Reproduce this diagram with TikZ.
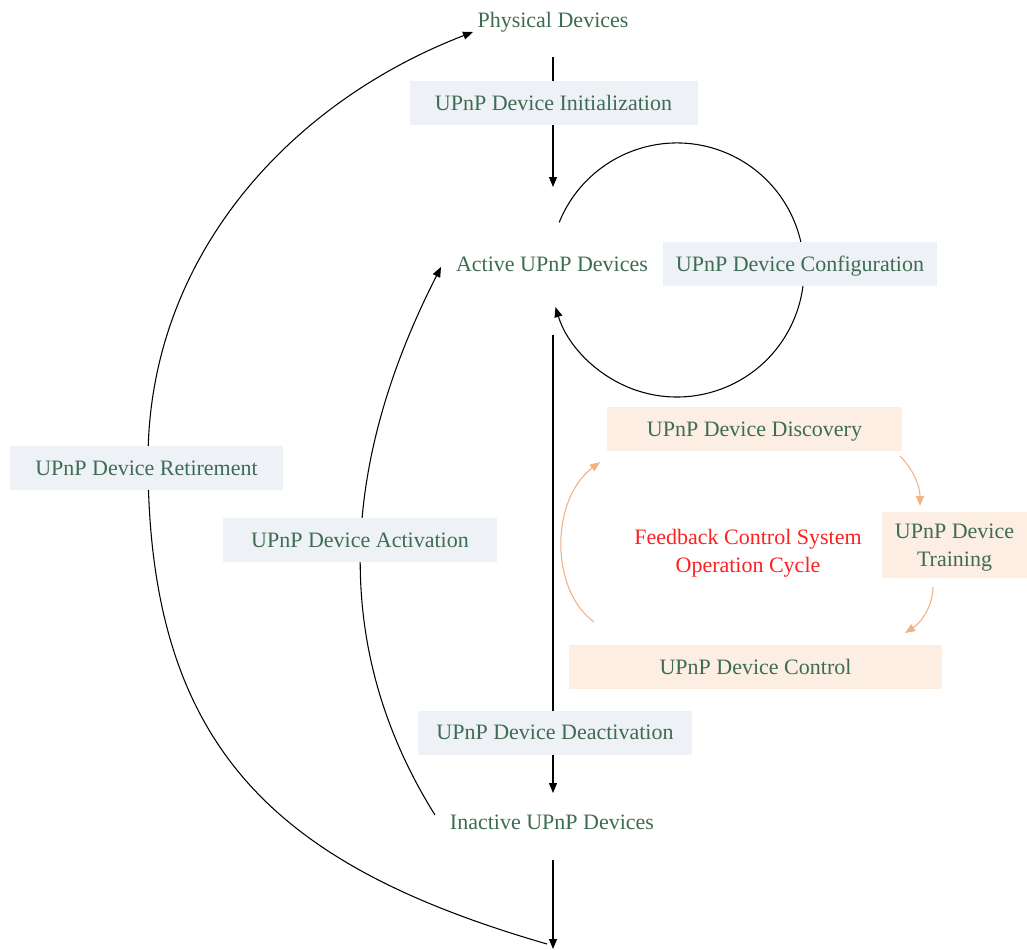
\documentclass[tikz,border=0pt]{standalone}
\usepackage{fontspec}
\setmainfont{Liberation Serif}
\usetikzlibrary{arrows.meta,backgrounds}
\definecolor{txtgreen}{RGB}{62,108,82}
\definecolor{boxblue}{RGB}{238,242,247}
\definecolor{boxpeach}{RGB}{253,238,227}
\definecolor{flow}{RGB}{244,177,131}
\definecolor{hot}{RGB}{255,32,32}

\begin{document}
\begin{tikzpicture}[x=0.75pt,y=-0.75pt,
  every node/.style={font=\fontsize{16.5}{21}\selectfont, text=txtgreen, inner sep=0pt, text depth=0pt},
  stepbox/.style={fill=boxblue, minimum height=33pt},
  cyclebox/.style={fill=boxpeach, minimum height=33pt, align=center},
  conn/.style={draw=black, line width=0.8pt, -{Triangle[length=7.5pt,width=6pt]}},
  fconn/.style={draw=flow, line width=0.8pt, -{Triangle[length=7.5pt,width=6pt]}}]

\useasboundingbox (0,0) rectangle (1027,949);

% device states
\node (phys) at (553,20) {Physical Devices};
\node (active) at (552,264) {Active UPnP Devices};
\node (inactive) at (552,822) {Inactive UPnP Devices};

% lifecycle transitions
\node[stepbox, minimum width=216pt] (init) at (553.5,103) {UPnP Device Initialization};
\node[stepbox, minimum width=205.5pt] (config) at (800,263.5) {UPnP Device Configuration};
\node[stepbox, minimum width=205pt] (retire) at (146.5,468) {UPnP Device Retirement};
\node[stepbox, minimum width=205pt] (activ) at (360,540) {UPnP Device Activation};
\node[stepbox, minimum width=205.5pt] (deact) at (555,732.5) {UPnP Device Deactivation};

% feedback control cycle
\node[cyclebox, minimum width=221pt] (disc) at (754.5,429) {UPnP Device Discovery};
\node[cyclebox, minimum width=109.5pt, minimum height=49.5pt] (train) at (954.5,545) {UPnP Device\\Training};
\node[cyclebox, minimum width=279.75pt] (ctrl) at (755.5,667) {UPnP Device Control};
\node[text=hot, align=center] (fb) at (748,551) {Feedback Control System\\Operation Cycle};

% connector end points
\coordinate (physS) at (553,57);
\coordinate (activeN) at (553,187);
\coordinate (activeS) at (553,335);
\coordinate (inactiveN) at (553,793);
\coordinate (inactiveS) at (553,860);
\coordinate (bottom) at (553,949);
\coordinate (retS) at (547,944);
\coordinate (retE) at (473,32);
\coordinate (actS) at (435,815);
\coordinate (actE) at (441,267);
\coordinate (loopS) at (559.2,222.4);
\coordinate (discE) at (900,456);
\coordinate (trainN) at (920,506);
\coordinate (trainS) at (933,587);
\coordinate (ctrlE) at (905,633);
\coordinate (ctrlW) at (594,622);
\coordinate (discW) at (600,462);

\begin{pgfonlayer}{background}
  \fill[white] (0,0) rectangle (1027,949);
  \draw[conn] (physS) -- (activeN);
  \draw[conn] (activeS) -- (inactiveN);
  \draw[conn] (inactiveS) -- (bottom);
  \draw[conn] (loopS) arc[start angle=158, end angle=-163, radius=95.25pt];
  \draw[conn] (actS) .. controls (335,655) and (335,475) .. (actE);
  \draw[conn] (retS) .. controls (278,866) and (148,750) .. (148,460)
                     .. controls (148,260) and (286,104) .. (retE);
  \draw[fconn] (discE) .. controls (912,468) and (920,485) .. (trainN);
  \draw[fconn] (trainS) .. controls (933,605) and (922,622) .. (ctrlE);
  \draw[fconn] (ctrlW) .. controls (550,590) and (550,500) .. (discW);
\end{pgfonlayer}
\end{tikzpicture}
\end{document}
